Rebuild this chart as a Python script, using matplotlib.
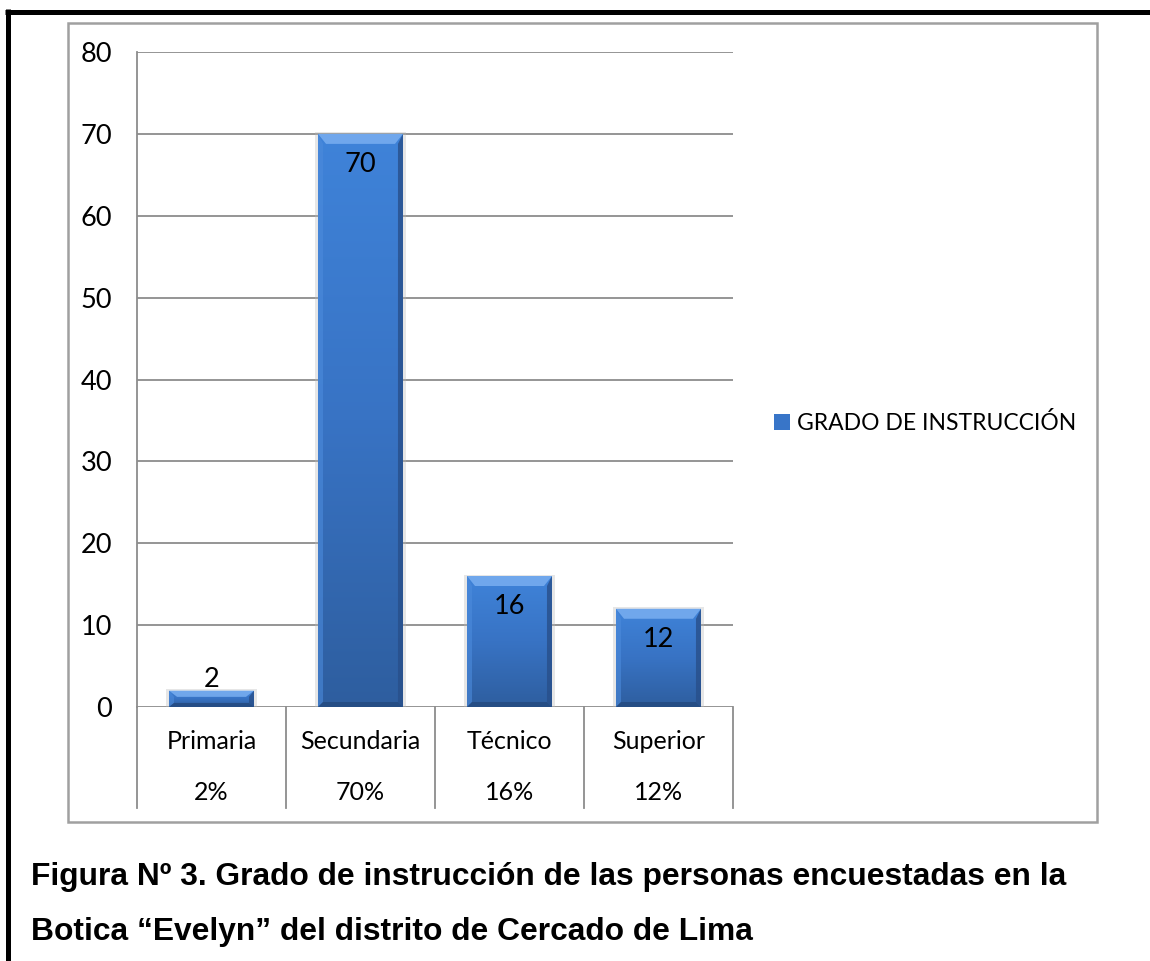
import matplotlib
matplotlib.use("Agg")
import matplotlib.pyplot as plt
import numpy as np
from matplotlib.colors import LinearSegmentedColormap
from matplotlib.patches import Rectangle, Polygon
from matplotlib.lines import Line2D
import matplotlib.transforms as mtransforms

# ---- data ----
categories = ["Primaria", "Secundaria", "Técnico", "Superior"]
values = [2, 70, 16, 12]
pct_labels = ["2%", "70%", "16%", "12%"]
series_name = "GRADO DE INSTRUCCIÓN"
y_ticks = [0, 10, 20, 30, 40, 50, 60, 70, 80]
caption_lines = ["Figura Nº 3. Grado de instrucción de las personas encuestadas en la",
                 "Botica \u201cEvelyn\u201d del distrito de Cercado de Lima"]

W, H = 1150, 961
fig = plt.figure(figsize=(W / 100, H / 100), dpi=100)
fig.patch.set_facecolor("white")

def fx(px):
    return px / W

def fy(py):
    return 1 - py / H

CHART_FONT = ["Lato", "DejaVu Sans"]
FS_NUM = 19.5
FS_CAT = 18
FS_LEG = 16.5
GRID = "#8c8c8c"

# plot area
ax_l, ax_r, ax_t, ax_b = 137, 733, 52, 707
ax = fig.add_axes([fx(ax_l), fy(ax_b), (ax_r - ax_l) / W, (ax_b - ax_t) / H])
ax.set_facecolor("none")

x = np.arange(len(categories))
bar_w = 0.57
bars = ax.bar(x, values, width=bar_w, color="#3875C8", zorder=2, label=series_name)

ax.set_xlim(-0.5, len(categories) - 0.5)
ax.set_ylim(0, 80)
ax.set_yticks(y_ticks)
ax.set_yticklabels([str(t) for t in y_ticks], fontsize=FS_NUM, family=CHART_FONT)
ax.set_xticks([])
ax.tick_params(axis="y", length=0, pad=18)
ax.yaxis.grid(True, color=GRID, lw=1.3, zorder=0)
ax.set_axisbelow(True)
for s in ["top", "right", "bottom"]:
    ax.spines[s].set_visible(False)
ax.spines["left"].set_color(GRID)
ax.spines["left"].set_linewidth(1.3)

# pixel -> data scale
xpp = (len(categories)) / (ax_r - ax_l)
ypp = 80.0 / (ax_b - ax_t)

face_cmap = LinearSegmentedColormap.from_list("face", ["#2E5E9F", "#3873C4", "#3F83D9"])
grad = np.linspace(0, 1, 256).reshape(-1, 1)

for rect, v in zip(bars.patches, values):
    x0 = rect.get_x()
    x1 = x0 + rect.get_width()
    h = rect.get_height()
    # soft shadow
    ax.add_patch(Rectangle((x0 - 3 * xpp, 0), (x1 - x0) + 6 * xpp, h + 1.5 * ypp,
                           fc="#b8b8b8", ec="none", alpha=0.35, zorder=1.9))
    im = ax.imshow(grad, extent=[x0, x1, 0, h], origin="lower", aspect="auto",
                   cmap=face_cmap, zorder=2.1)
    im.set_clip_path(rect)
    hp = h / ypp
    bt = min(10, hp * 0.38) * ypp
    bb = min(5, hp * 0.25) * ypp
    bs = 8 * xpp
    bsw = 5 * xpp
    top = Polygon([(x0, h), (x1, h), (x1 - bs, h - bt), (x0 + bs, h - bt)],
                  closed=True, fc="#76ACEF", ec="none", alpha=0.9, zorder=2.3)
    left = Polygon([(x0, 0), (x0, h), (x0 + bsw, h - bt), (x0 + bsw, bb)],
                   closed=True, fc="#4C8BDC", ec="none", alpha=0.6, zorder=2.2)
    right = Polygon([(x1, 0), (x1, h), (x1 - bsw, h - bt), (x1 - bsw, bb)],
                    closed=True, fc="#284F8A", ec="none", alpha=0.8, zorder=2.2)
    bottom = Polygon([(x0, 0), (x1, 0), (x1 - bsw, bb), (x0 + bsw, bb)],
                     closed=True, fc="#244A80", ec="none", alpha=0.85, zorder=2.25)
    for p in (left, right, bottom, top):
        ax.add_patch(p)

ax.set_xlim(-0.5, len(categories) - 0.5)
ax.set_ylim(0, 80)

# data labels
for xi, v in zip(x, values):
    off = 2.6 if v < 5 else -27.4
    ax.annotate(str(v), xy=(xi, v), xytext=(0, off), textcoords="offset points",
                ha="center", va="baseline", fontsize=FS_NUM, family=CHART_FONT,
                color="black", zorder=5)

# category table below axis
trans = mtransforms.blended_transform_factory(ax.transData, ax.transAxes)
tab_bottom = -(808 - ax_b) / (ax_b - ax_t)
for b in np.arange(-0.5, len(categories), 1.0):
    ax.add_line(Line2D([b, b], [tab_bottom, 0], transform=trans, color=GRID,
                       lw=1.3, clip_on=False))
row1 = -(749 - ax_b) / (ax_b - ax_t)
row2 = -(800 - ax_b) / (ax_b - ax_t)
for xi, c, p in zip(x, categories, pct_labels):
    ax.text(xi, row1, c, transform=trans, ha="center", va="baseline",
            fontsize=FS_CAT, family=CHART_FONT, clip_on=False)
    ax.text(xi, row2, p, transform=trans, ha="center", va="baseline",
            fontsize=FS_CAT, family=CHART_FONT, clip_on=False)

# legend
fig.legend(handles=[bars], labels=[series_name], loc="center left",
           bbox_to_anchor=(fx(774), fy(423)), frameon=False,
           handlelength=0.7, handleheight=0.7, handletextpad=0.3,
           borderpad=0, borderaxespad=0,
           prop={"family": CHART_FONT, "size": FS_LEG})

# chart outer box
fig.add_artist(Rectangle((fx(68), fy(822)), (1097 - 68) / W, (822 - 23) / H,
                         transform=fig.transFigure, fill=False, ec="#a0a0a0", lw=1.8))

# black page border (top and left)
fig.add_artist(Line2D([fx(5), 1.0], [fy(11.5), fy(11.5)], transform=fig.transFigure,
                      color="black", lw=3.6, solid_capstyle="butt"))
fig.add_artist(Line2D([fx(7.5), fx(7.5)], [fy(9), 0.0], transform=fig.transFigure,
                      color="black", lw=3.6, solid_capstyle="butt"))

# caption
for line, base in zip(caption_lines, [885, 940]):
    fig.text(fx(31), fy(base), line, ha="left", va="baseline", fontsize=22.9,
             fontweight="bold", family=["Liberation Sans", "DejaVu Sans"])

fig.savefig("out.png", dpi=100, facecolor="white")
